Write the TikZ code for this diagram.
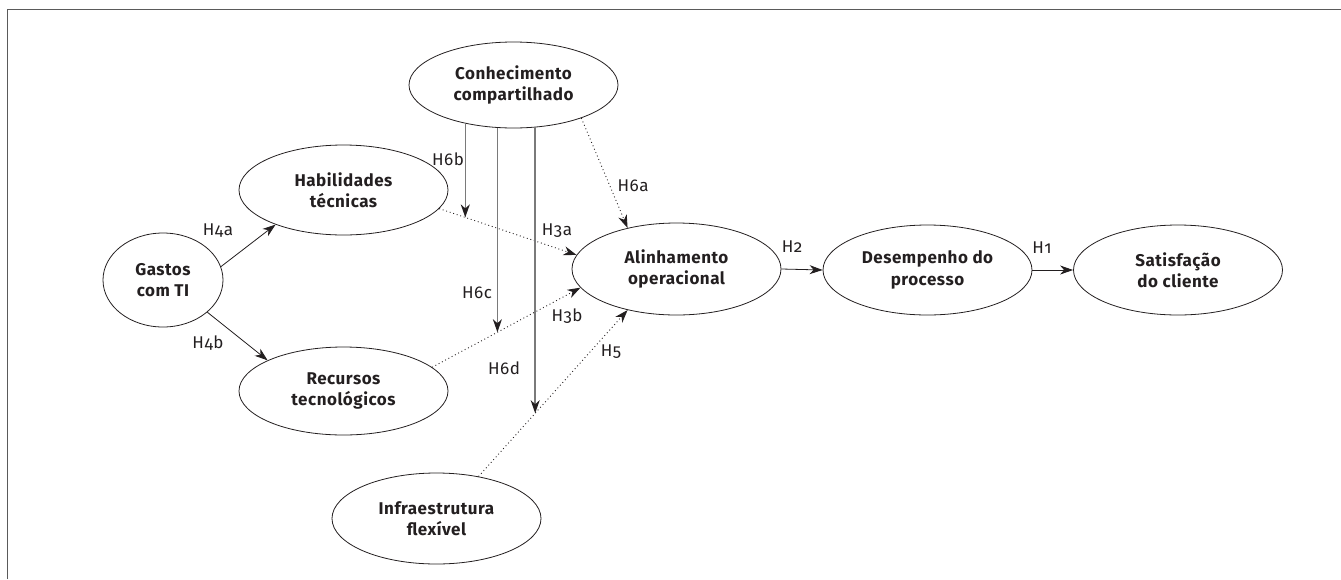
\documentclass[tikz,border=0pt]{standalone}
\usepackage{fontspec}
\setmainfont{Fira Sans}[Numbers=OldStyle]
\newfontfamily\spacedfont{Fira Sans}[Numbers=OldStyle,LetterSpace=3]
\usetikzlibrary{arrows.meta,shapes.geometric}
\definecolor{ink}{HTML}{231F20}
\definecolor{modgray}{HTML}{7A7A7A}
\definecolor{framegray}{HTML}{5A5A5A}
\begin{document}
\begin{tikzpicture}[x=1pt,y=-1pt,
  construct/.style={ellipse,draw=ink,line width=0.8pt,inner sep=0pt,minimum width=209pt,minimum height=90pt,align=center,font=\spacedfont\fontsize{17}{21.5}\selectfont\bfseries,text=ink},
  hyp/.style={font=\spacedfont\fontsize{17}{20}\selectfont,text=ink,inner sep=0pt},
  solidarrow/.style={draw=ink,line width=0.8pt,-{Stealth[length=13pt,width=9pt,inset=4pt]}},
  dottedarrow/.style={draw=ink,line width=0.9pt,dash pattern=on 0.9pt off 2.8pt,-{Stealth[length=13pt,width=9pt,inset=4pt]}},
  modline/.style={draw=modgray,line width=1.5pt,-{Stealth[length=13pt,width=9pt,inset=4pt,color=ink]}},
]
\useasboundingbox (0,0) rectangle (1341,579);
\draw[framegray,line width=1.5pt] (7.5,579) -- (7.5,9.5) -- (1341,9.5);

\node[construct,minimum width=120pt,minimum height=94pt] (gas) at (163,280) {Gastos\\com TI};
\node[construct] (hab) at (343.5,190) {Habilidades\\técnicas};
\node[construct,minimum height=88pt] (rec) at (343.5,391) {Recursos\\tecnológicos};
\node[construct,minimum height=86pt] (con) at (513.5,85) {Conhecimento\\compartilhado};
\node[construct,minimum height=92pt] (ali) at (676.5,269) {Alinhamento\\operacional};
\node[construct] (des) at (927.5,270) {Desempenho do\\processo};
\node[construct] (sat) at (1178,270) {Satisfação\\do cliente};
\node[construct,minimum height=91pt] (inf) at (436.5,518.5) {Infraestrutura\\flexível};

% solid paths
\draw[solidarrow] (gas.13.8) -- (hab.207);
\draw[solidarrow] (gas.-36.9) -- (rec.158.7);
\draw[solidarrow] (ali.east) -- (des.west);
\draw[solidarrow] (des.east) -- (sat.west);

% dotted paths
\draw[dottedarrow] (hab.-11) -- (ali.172.6) coordinate[pos=0.19] (t6b);
\draw[dottedarrow] (rec.15.1) -- (ali.-169.1) coordinate[pos=0.44] (t6c);
\draw[dottedarrow] (inf.45) -- (ali.-140.8) coordinate[pos=0.38] (t6d);
\draw[dottedarrow] (con.-26.4) -- (ali.140.9);

% moderating paths
\draw[modline] (t6b |- con.-140.4) -- (t6b);
\draw[modline] (t6c |- con.-106.3) -- (t6c);
\draw[modline] (t6d |- con.-63) -- (t6d);

% labels
\node[hyp] (l4a) at (218,231) {H4a};
\node[hyp] (l4b) at (208,343) {H4b};
\node[hyp] (l6b) at (448,159) {H6b};
\node[hyp] (l6a) at (633,186) {H6a};
\node[hyp] (l3a) at (557,231) {H3a};
\node[hyp] (l6c) at (477,293) {H6c};
\node[hyp] (l3b) at (567,316) {H3b};
\node[hyp] (l6d) at (504,368) {H6d};
\node[hyp] (l5) at (611,352) {H5};
\node[hyp] (l2) at (792,247) {H2};
\node[hyp] (l1) at (1042,248) {H1};
\end{tikzpicture}
\end{document}
